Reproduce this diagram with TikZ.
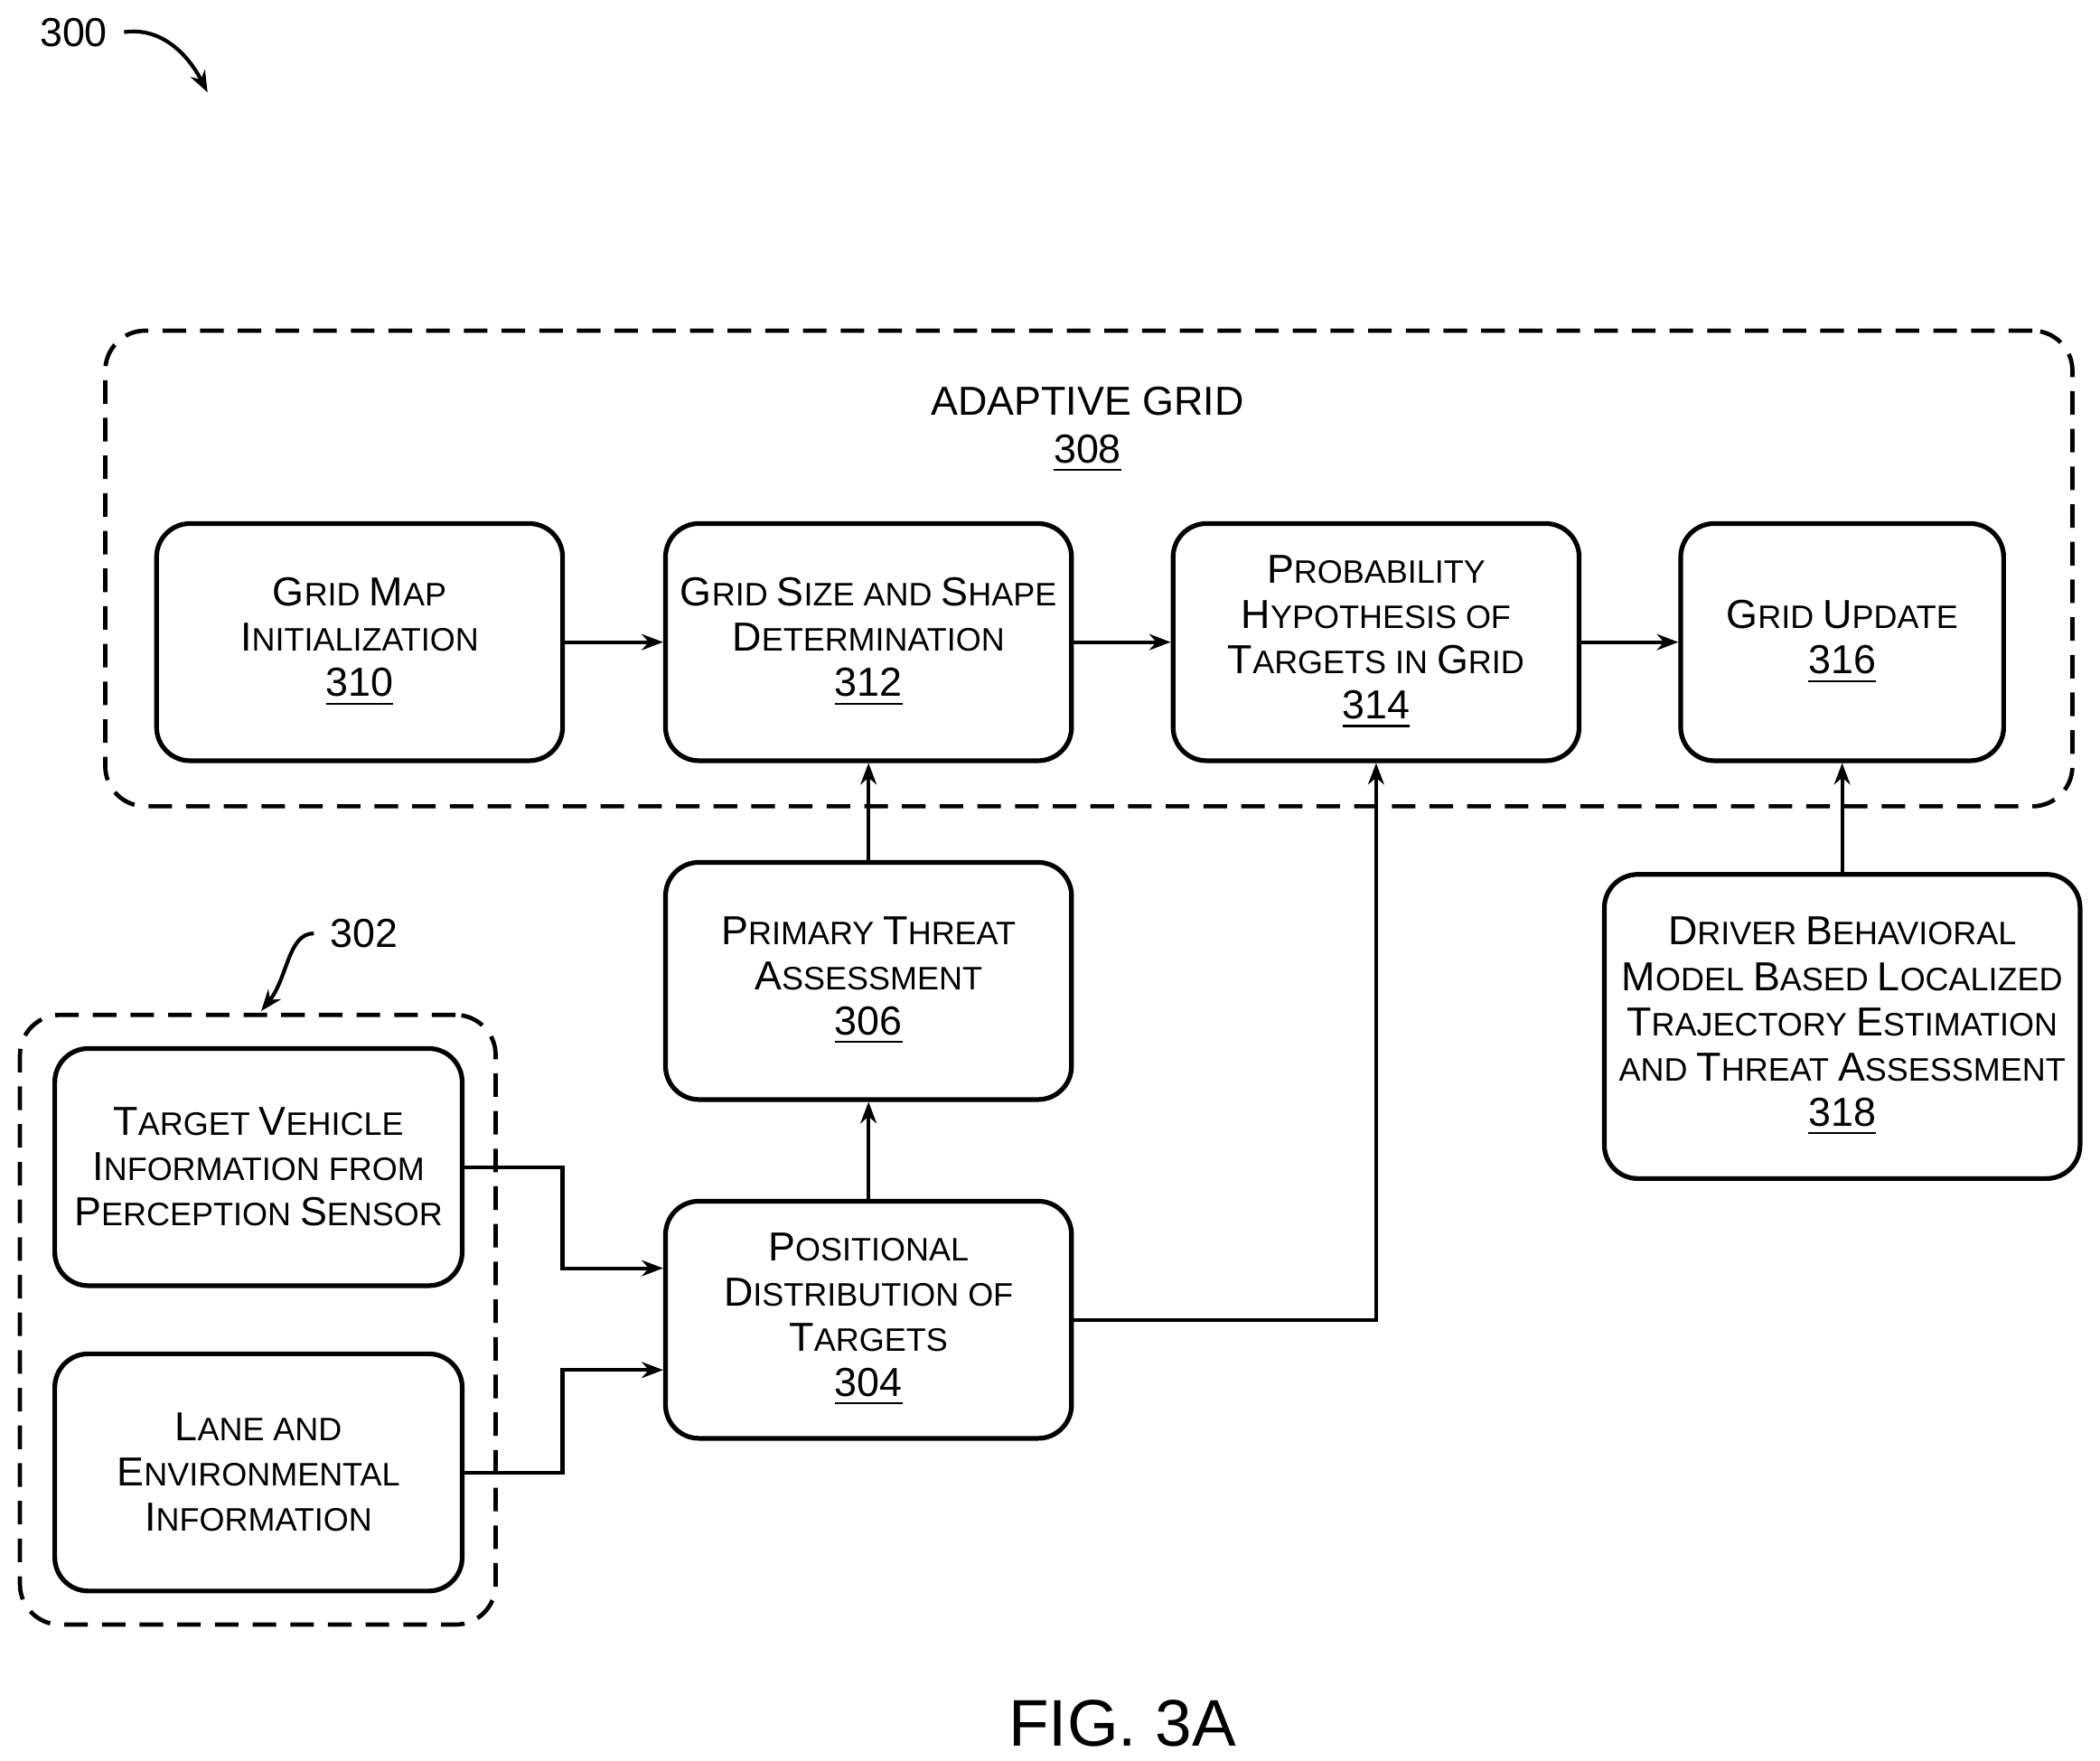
\documentclass[tikz,border=0pt]{standalone}
\usepackage{fontspec}
\setmainfont{Liberation Sans}
\usetikzlibrary{arrows.meta}
\newcommand\C[1]{{\fontsize{8.6pt}{9.6pt}\selectfont #1}}
\begin{document}
\begin{tikzpicture}[x=0.01cm,y=-0.01cm,
  box/.style={draw,line width=1pt,rounded corners=0.25cm,align=center,inner sep=0pt,
    font=\fontsize{6.9pt}{9.6pt}\selectfont},
  grp/.style={draw,line width=0.9pt,dashed,dash pattern=on 5pt off 3pt,rounded corners=0.3cm},
  arr/.style={line width=0.8pt,-{Stealth[length=0.16cm,width=0.12cm]}},
  lbl/.style={font=\fontsize{8.6pt}{9.6pt}\selectfont}]
\useasboundingbox (0,0) rectangle (1568,1315);
\node[grp,minimum width=14.68cm,minimum height=3.55cm] (g308) at (813,424.5) {};
\node[lbl,align=center] (t308) at (812,321) {\C{A}DAPTIVE \C{G}RID\\[0.5pt]\C{\underline{308}}};
\node[grp,minimum width=3.55cm,minimum height=4.55cm] (g302) at (192.5,985.5) {};
\node[box,minimum width=3.03cm,minimum height=1.77cm] (b310) at (268.5,479.5) {\C{G}RID \C{M}AP\\\C{I}NITIALIZATION\\\C{\underline{310}}};
\node[box,minimum width=3.03cm,minimum height=1.77cm] (b312) at (648.5,479.5) {\C{G}RID \C{S}IZE AND \C{S}HAPE\\\C{D}ETERMINATION\\\C{\underline{312}}};
\node[box,minimum width=3.03cm,minimum height=1.77cm] (b314) at (1027.5,479.5) {\C{P}ROBABILITY\\\C{H}YPOTHESIS OF\\\C{T}ARGETS IN \C{G}RID\\\C{\underline{314}}};
\node[box,minimum width=2.41cm,minimum height=1.77cm] (b316) at (1375.5,479.5) {\C{G}RID \C{U}PDATE\\\C{\underline{316}}};
\node[box,minimum width=3.03cm,minimum height=1.77cm] (b306) at (648.5,732.5) {\C{P}RIMARY \C{T}HREAT\\\C{A}SSESSMENT\\\C{\underline{306}}};
\node[box,minimum width=3.03cm,minimum height=1.77cm] (b304) at (648.5,985.5) {\C{P}OSITIONAL\\\C{D}ISTRIBUTION OF\\\C{T}ARGETS\\\C{\underline{304}}};
\node[box,minimum width=3.04cm,minimum height=1.77cm] (btv) at (193,871.5) {\C{T}ARGET \C{V}EHICLE\\\C{I}NFORMATION FROM\\\C{P}ERCEPTION \C{S}ENSOR};
\node[box,minimum width=3.04cm,minimum height=1.77cm] (bln) at (193,1099.5) {\C{L}ANE AND\\\C{E}NVIRONMENTAL\\\C{I}NFORMATION};
\node[box,minimum width=3.55cm,minimum height=2.27cm] (b318) at (1375.5,766.5) {\C{D}RIVER \C{B}EHAVIORAL\\\C{M}ODEL \C{B}ASED \C{L}OCALIZED\\\C{T}RAJECTORY \C{E}STIMATION\\AND \C{T}HREAT \C{A}SSESSMENT\\\C{\underline{318}}};
\draw[arr] (b310) -- (b312);
\draw[arr] (b312) -- (b314);
\draw[arr] (b314) -- (b316);
\draw[arr] (b306) -- (b312);
\draw[arr] (b304) -- (b306);
\draw[arr] (b318) -- (b316);
\draw[arr] (b304.east) -| (b314.south);
\draw[arr] (btv.east) -- (420,871.5) |- (b304.west |- 0,947);
\draw[arr] (bln.east) -- (420,1099.5) |- (b304.west |- 0,1023);
\node[lbl] (t300) at (55,24) {\C{300}};
\coordinate (c300) at (155,69);
\draw[arr] (t300.east) .. controls (120,20) and (140,40) .. (c300);
\node[lbl] (t302) at (272,697) {\C{302}};
\coordinate (c302) at (195,755);
\draw[arr] (t302.west) .. controls (215,697) and (215,730) .. (c302);
\node[font=\fontsize{14pt}{16pt}\selectfont] (fig) at (838,1287) {FIG. 3A};
\end{tikzpicture}
\end{document}
